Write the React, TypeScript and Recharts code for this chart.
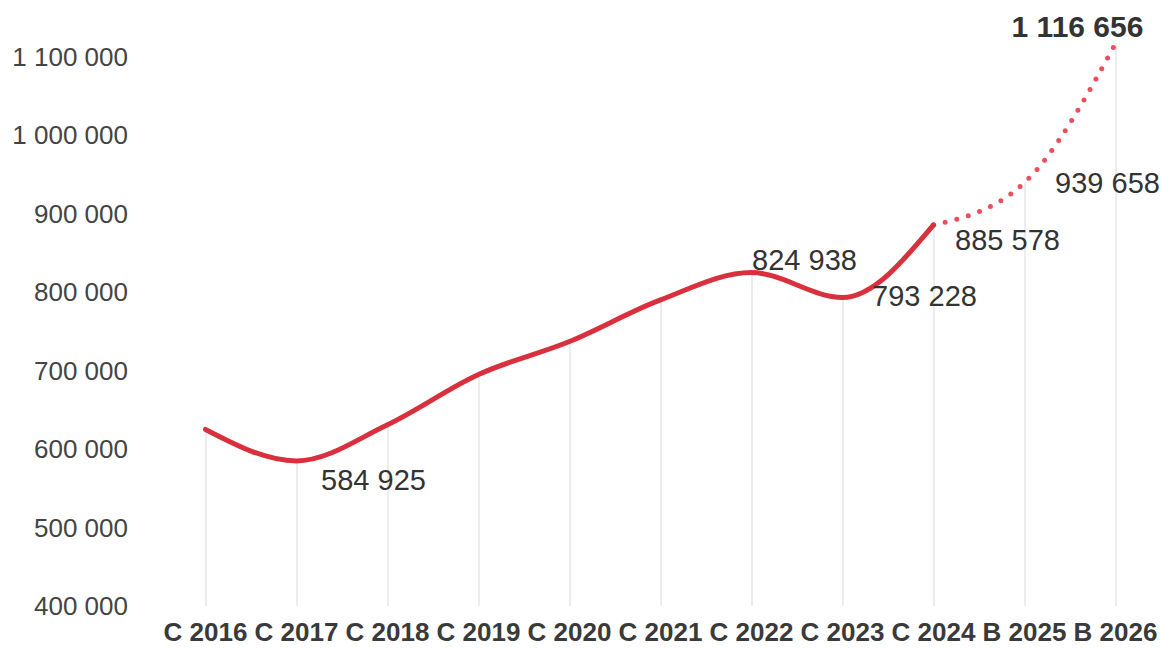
import { ComposedChart, Line, Bar, XAxis, YAxis, LabelList } from "recharts";

const years = [
  "C 2016", "C 2017", "C 2018", "C 2019", "C 2020", "C 2021",
  "C 2022", "C 2023", "C 2024", "B 2025", "B 2026",
];
const actual = [625000, 584925, 631000, 695000, 737000, 790000, 824938, 793228, 885578, null, null];
const forecast = [null, null, null, null, null, null, null, null, 885578, 939658, 1116656];
const yTicks = [400000, 500000, 600000, 700000, 800000, 900000, 1000000, 1100000];
// which points carry a value label
const labelled = [false, true, false, false, false, false, true, true, true, true, true];

// label offsets from the point (layout only)
const labelOffsets: Record<number, { dx: number; dy: number; bold?: boolean }> = {
  1: { dx: 77, dy: 29 },
  6: { dx: 53, dy: -3 },
  7: { dx: 82, dy: 9 },
  8: { dx: 74, dy: 25 },
  9: { dx: 83, dy: 10 },
  10: { dx: -38, dy: -7, bold: true },
};

const data = years.map((year, i) => ({
  year,
  drop: actual[i] ?? forecast[i],
  actual: actual[i],
  forecast: forecast[i],
  label: labelled[i] ? (actual[i] ?? forecast[i]) : null,
}));

const fmt = (v: number) => String(v).replace(/\B(?=(\d{3})+(?!\d))/g, " ");

const font = "'Liberation Sans', Arial, sans-serif";

const ValueLabel = (props: any) => {
  const { x, y, value, index } = props;
  if (value == null) return null;
  const off = labelOffsets[index];
  if (!off) return null;
  return (
    <text
      x={x + off.dx}
      y={y + off.dy}
      textAnchor="middle"
      fill="#333"
      fontSize={off.bold ? 30 : 29}
      fontWeight={off.bold ? 700 : 400}
      fontFamily={font}
    >
      {fmt(value)}
    </text>
  );
};

export default function App() {
  return (
    <div style={{ position: "absolute", left: 0, top: 0, background: "#fff" }}>
      <ComposedChart
        width={1161}
        height={648}
        data={data}
        margin={{ top: 41, right: 0, bottom: 0, left: 0 }}
      >
        <XAxis
          dataKey="year"
          axisLine={false}
          tickLine={false}
          height={42}
          tickMargin={11}
          interval={0}
          tick={{ fill: "#3a3a3a", fontSize: 26, fontWeight: 700, fontFamily: font }}
        />
        <YAxis
          domain={[400000, 1120000]}
          ticks={yTicks}
          axisLine={false}
          tickLine={false}
          width={160}
          tickSize={0}
          tickMargin={32}
          tickFormatter={fmt}
          tick={{ fill: "#444", fontSize: 26, fontFamily: font }}
        />
        <Bar dataKey="drop" barSize={2} fill="#ececec" isAnimationActive={false} />
        <Line
          type="monotone"
          dataKey="forecast"
          stroke="#ef4d5d"
          strokeWidth={5}
          strokeDasharray="0 12"
          strokeLinecap="round"
          dot={false}
          connectNulls={false}
          isAnimationActive={false}
        />
        <Line
          type="monotone"
          dataKey="actual"
          stroke="#d9303d"
          strokeWidth={5}
          strokeLinecap="round"
          dot={false}
          isAnimationActive={false}
        />
        <Line
          dataKey="label"
          stroke="none"
          dot={false}
          legendType="none"
          isAnimationActive={false}
        >
          <LabelList dataKey="label" content={<ValueLabel />} />
        </Line>
      </ComposedChart>
    </div>
  );
}
